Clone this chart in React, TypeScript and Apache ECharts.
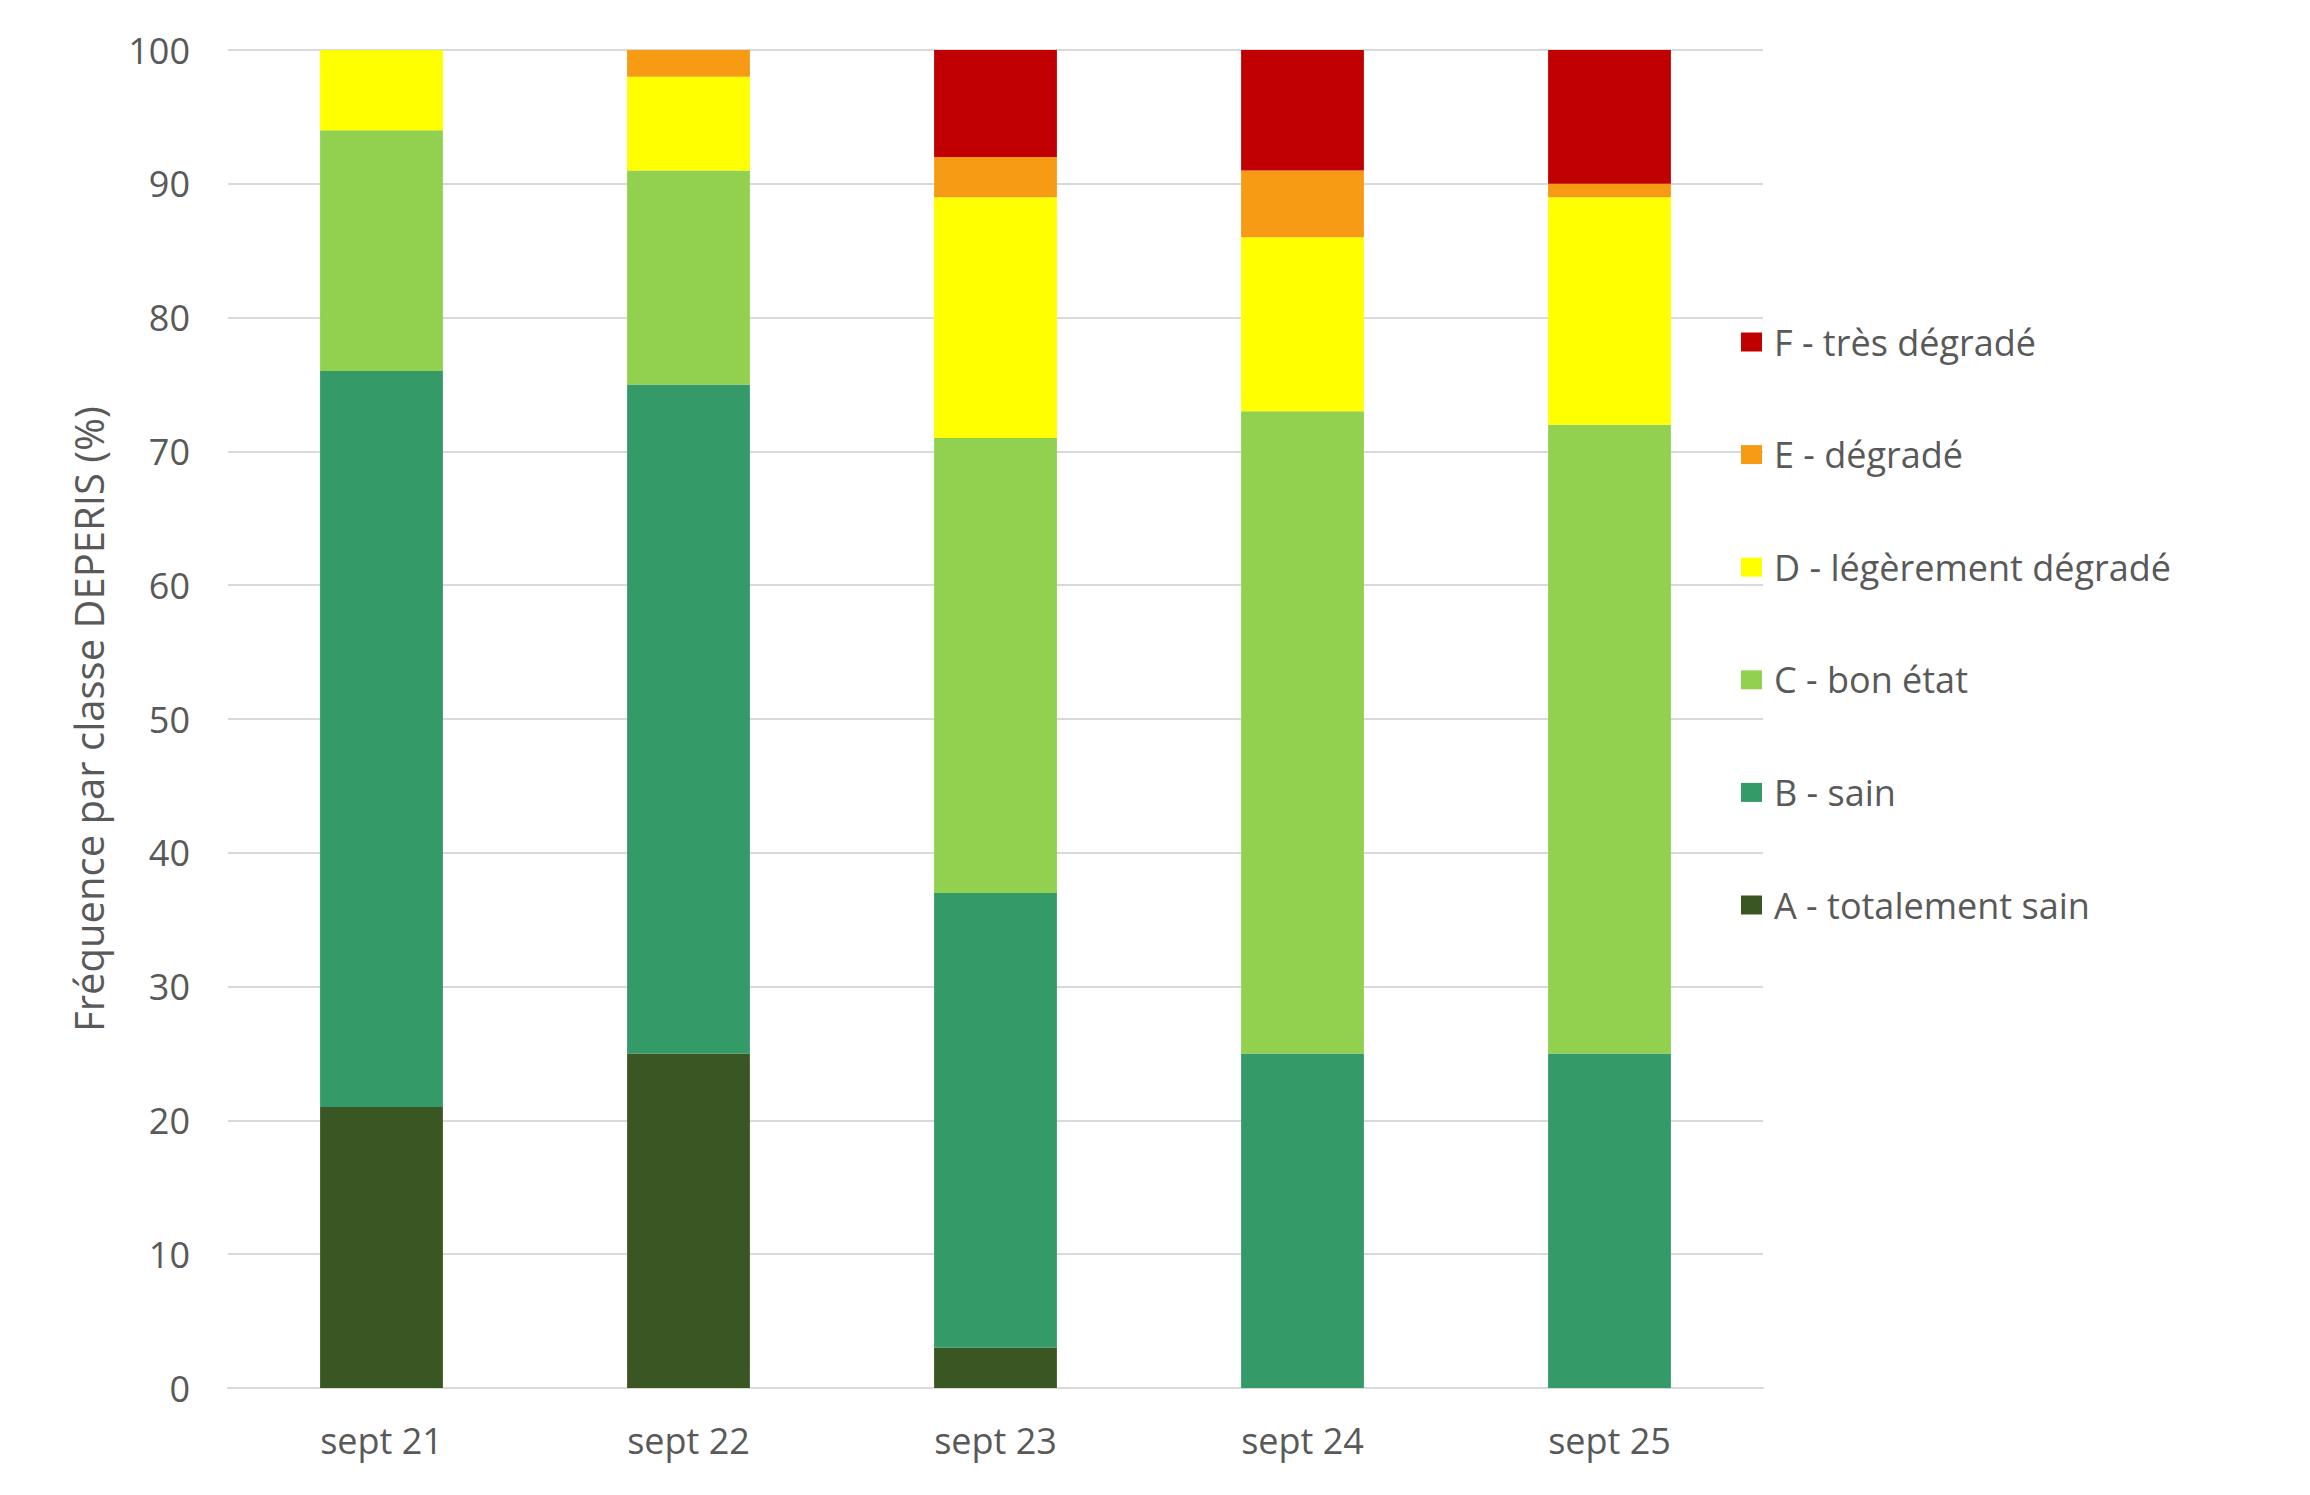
import React, { useEffect, useRef } from "react";
import * as echarts from "echarts";

const categories = ["sept 21", "sept 22", "sept 23", "sept 24", "sept 25"];
const seriesNames = [
  "A - totalement sain",
  "B - sain",
  "C - bon état",
  "D - légèrement dégradé",
  "E - dégradé",
  "F - très dégradé",
];
const seriesColors = ["#3A5623", "#349A68", "#92D050", "#FFFF00", "#F79A14", "#C00000"];
const valuesA = [21, 25, 3, 0, 0];
const valuesB = [55, 50, 34, 25, 25];
const valuesC = [18, 16, 34, 48, 47];
const valuesD = [6, 7, 18, 13, 17];
const valuesE = [0, 2, 3, 5, 1];
const valuesF = [0, 0, 8, 9, 10];
const yTicks = { min: 0, max: 100, interval: 10 };
const yAxisTitle = "Fréquence par classe DEPERIS (%)";

const allValues = [valuesA, valuesB, valuesC, valuesD, valuesE, valuesF];

const FONT = "'Open Sans', sans-serif";
const TEXT_COLOR = "#595959";

export default function App() {
  const ref = useRef<HTMLDivElement>(null);
  useEffect(() => {
    if (!ref.current) return;
    const chart = echarts.init(ref.current, undefined, { renderer: "svg" });
    chart.setOption({
      animation: false,
      backgroundColor: "#ffffff",
      textStyle: { fontFamily: FONT },
      grid: { left: 228, right: 547, top: 50, bottom: 107, containLabel: false },
      legend: {
        orient: "vertical",
        left: 1741,
        top: 322,
        padding: 0,
        itemWidth: 21,
        itemHeight: 19,
        itemGap: 72.6,
        icon: "rect",
        data: [...seriesNames].reverse(),
        textStyle: { color: TEXT_COLOR, fontSize: 36, fontFamily: FONT, lineHeight: 40, padding: [0, 0, 0, 7] },
      },
      xAxis: {
        type: "category",
        data: categories,
        axisLine: { show: true, lineStyle: { color: "#d9d9d9", width: 2 } },
        axisTick: { show: false },
        axisLabel: { color: TEXT_COLOR, fontSize: 36, fontFamily: FONT, margin: 34 },
      },
      yAxis: {
        type: "value",
        min: yTicks.min,
        max: yTicks.max,
        interval: yTicks.interval,
        axisLine: { show: false },
        axisTick: { show: false },
        splitLine: { lineStyle: { color: "#d9d9d9", width: 2 } },
        axisLabel: { color: TEXT_COLOR, fontSize: 36, fontFamily: FONT, margin: 38 },
        name: yAxisTitle,
        nameLocation: "middle",
        nameRotate: 90,
        nameGap: 120,
        nameTextStyle: { color: TEXT_COLOR, fontSize: 40, fontFamily: FONT },
      },
      series: seriesNames.map((name, i) => ({
        name,
        type: "bar",
        stack: "total",
        barWidth: "40%",
        data: allValues[i],
        itemStyle: { color: seriesColors[i] },
      })),
    });
    return () => chart.dispose();
  }, []);
  return (
    <div
      ref={ref}
      style={{ position: "fixed", left: 0, top: 0, width: "2310px", height: "1495px" }}
    />
  );
}
